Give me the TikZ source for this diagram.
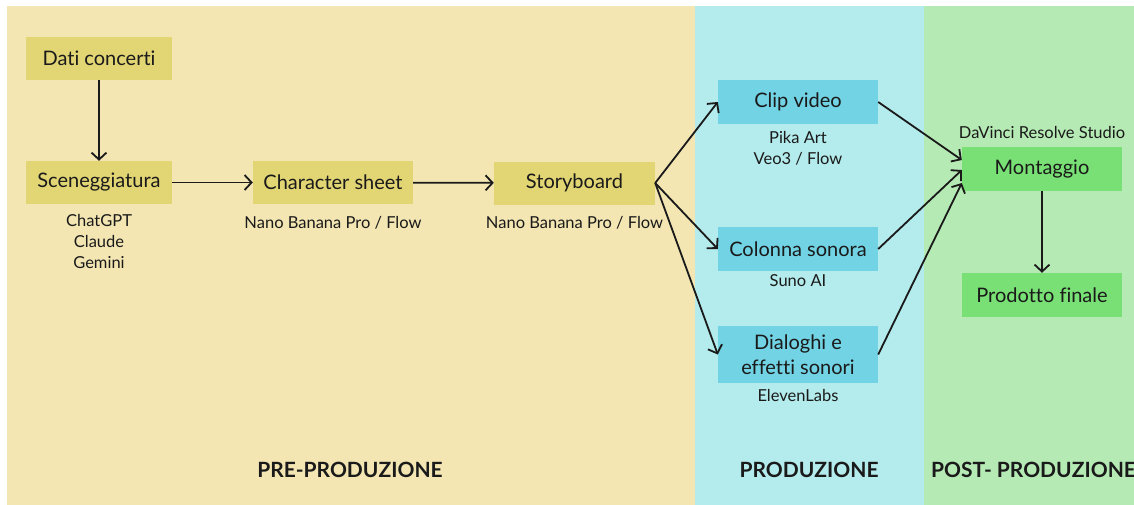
\documentclass[tikz,border=0pt]{standalone}
\usepackage{fontspec}
\setmainfont{Lato}[Ligatures={NoCommon}]
\usetikzlibrary{arrows.meta,calc}

\definecolor{preBg}{HTML}{F3E6B3}
\definecolor{prodBg}{HTML}{B4EBEC}
\definecolor{postBg}{HTML}{B6EAB5}
\definecolor{preBox}{HTML}{E2D574}
\definecolor{prodBox}{HTML}{72D3E4}
\definecolor{postBox}{HTML}{78E074}
\definecolor{ink}{HTML}{1A1A1A}

\tikzset{
  box/.style={inner sep=0pt, minimum width=160pt, minimum height=44pt,
    text=ink, font=\fontsize{20}{25}\selectfont, align=center},
  prebox/.style={box, fill=preBox},
  prodbox/.style={box, fill=prodBox},
  postbox/.style={box, fill=postBox},
  tool/.style={inner sep=0pt, text=ink, align=center,
    font=\fontsize{16.5}{21}\selectfont},
  phase/.style={inner sep=0pt, text=ink, font=\fontsize{21}{24}\selectfont\bfseries},
  flow/.style={draw=ink, line width=1.8pt,
    -{Straight Barb[length=7pt,width=15pt,line width=1.8pt]}},
}

\begin{document}
\begin{tikzpicture}[x=1pt,y=-1pt]
  \useasboundingbox (0,0) rectangle (1134,504);
  \fill[white] (-5,-5) rectangle (1140,510);

  % phase backgrounds
  \fill[preBg]  (7,6)   rectangle (695,510);
  \fill[prodBg] (695,6) rectangle (924,510);
  \fill[postBg] (924,6) rectangle (1140,510);

  % pre-production
  \node[prebox, minimum width=146pt, minimum height=43pt] (dati) at (99,58.5) {Dati concerti};
  \node[prebox, minimum width=146pt, minimum height=43pt] (scen) at (99,182.5) {Sceneggiatura};
  \node[prebox, minimum width=160pt, minimum height=43pt] (char) at (333,182.5) {Character sheet};
  \node[prebox, minimum width=161pt, minimum height=43pt] (story) at (574.5,183) {Storyboard};

  \node[tool] (scenTools) at (99,241) {ChatGPT\\Claude\\Gemini};
  \node[tool] (charTools) at (333,222.5) {Nano Banana Pro / Flow};
  \node[tool] (storyTools) at (574.5,222.5) {Nano Banana Pro / Flow};

  % production
  \node[prodbox] (clip) at (798,102) {Clip video};
  \node[prodbox] (colonna) at (798,249) {Colonna sonora};
  \node[prodbox, minimum height=57pt] (dial) at (798,354.5) {Dialoghi e\\effetti sonori};

  \node[tool] (clipTools) at (798,148.5) {Pika Art\\Veo3 / Flow};
  \node[tool] (colTools) at (798,281) {Suno AI};
  \node[tool] (dialTools) at (798,395.5) {ElevenLabs};

  % post-production
  \node[postbox] (mont) at (1042,169) {Montaggio};
  \node[postbox] (prodotto) at (1042,295) {Prodotto finale};
  \node[tool] (montTools) at (1042,132) {DaVinci Resolve Studio};

  % phase titles
  \node[phase] (prePhase) at (350,470) {PRE-PRODUZIONE};
  \node[phase] (prodPhase) at (809,470) {PRODUZIONE};
  \node[phase, anchor=west] (postPhase) at (931,470) {POST- PRODUZIONE};

  % connectors
  \draw[flow] (dati) -- (scen);
  \draw[flow] (scen) -- (char);
  \draw[flow] (char) -- (story);
  \draw[flow] (story.east) -- (clip.west);
  \draw[flow] (story.east) -- (colonna.west);
  \draw[flow] (story.east) -- (dial.west);
  \draw[flow] (clip.east) -- ([yshift=9pt]mont.west);
  \draw[flow] (colonna.east) -- ([yshift=-1pt]mont.west);
  \draw[flow] (dial.east) -- ([yshift=-14pt]mont.west);
  \draw[flow] (mont) -- (prodotto);
\end{tikzpicture}
\end{document}
